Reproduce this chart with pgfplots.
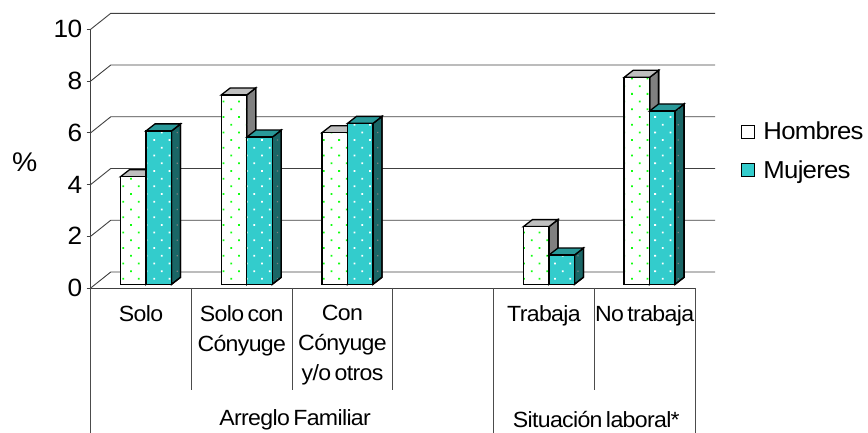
\documentclass[border=0pt]{standalone}
\usepackage{fontspec}
\setmainfont[FakeStretch=1.05,LetterSpace=-3,WordSpace=0.6]{Liberation Sans}
\usepackage{pgfplots}
\usepackage{pgfplotstable}
\pgfplotsset{compat=1.18}
\usetikzlibrary{patterns.meta}

\definecolor{teal1}{HTML}{33CCCC}
\definecolor{tealside}{HTML}{1A6666}
\definecolor{tealtop}{HTML}{299999}
\definecolor{dotgreen}{HTML}{11FF11}

% % by category: 0-2 arreglo familiar, 3 empty, 4-5 situacion laboral
\pgfplotstableread{
c h m
0 4.16 5.93
1 7.32 5.69
2 5.86 6.22
4 2.23 1.13
5 8.00 6.70
}\datos

\tikzset{
  dotsg/.style={pattern={Dots[distance=10.9pt,radius=1.25pt,angle=45]},pattern color=dotgreen},
  dotsw/.style={pattern={Dots[distance=10.9pt,radius=1.25pt,angle=45]},pattern color=white},
  dotsd/.style={pattern={Dots[distance=10.9pt,radius=0.9pt,angle=45]},pattern color=gray},
}

\pgfdeclareplotmark{nada}{}

% side and top of a bar, mark sits at the top of the bar's centre line
\newcommand{\extrude}[4]{%
  \pgfmathsetmacro{\hh}{\val*25.87}%
  \path[draw=black,line width=1.3pt,fill=#2,postaction={#4}]
    (#3pt+25.5pt,0pt) -- ++(9pt,7pt) -- ++(0pt,-\hh pt) -- ++(-9pt,-7pt) -- cycle;%
  \path[draw=black,line width=1.3pt,fill=#1]
    (#3pt,0pt) -- ++(9pt,7pt) -- ++(25.5pt,0pt) -- ++(-9pt,-7pt) -- cycle;%
}

\begin{document}
\begin{tikzpicture}
\useasboundingbox (0pt,0pt) rectangle (868pt,433pt);

% frame, grid and labels, x in categories, front plane of the box
\begin{axis}[
  at={(90.7pt,145pt)}, anchor=south west,
  scale only axis, width=604.3pt, height=258.7pt,
  xmin=-0.5, xmax=5.5, ymin=0, ymax=10,
  clip=false,
  axis x line*=bottom, axis y line*=left,
  axis line style={-, line width=0.8pt, black!75},
  ytick={0,2,4,6,8,10},
  xtick={0,1,2,4,5},
  xticklabels={Solo,{Solo con\\Cónyuge},{Con\\Cónyuge\\y/o otros},Trabaja,No trabaja},
  /pgf/number format/assume math mode=true,
  yticklabel style={font=\fontsize{25}{25}\selectfont, xshift=-1pt},
  xticklabel style={font=\fontsize{22}{30}\selectfont, align=center, anchor=north, yshift=-10pt},
  xtick style={draw=none},
  ytick style={black!75, line width=0.8pt},
  tick align=outside,
  major tick length=4pt,
  ylabel={\%},
  ylabel style={rotate=-90, at={(axis description cs:-0.109,0.487)}, anchor=center, font=\fontsize{27}{27}\selectfont},
]
% grid lines, front edge to back wall
\addplot[black!75, line width=0.9pt] coordinates {(-0.5,0) (-0.301,0.618) (5.70,0.618)};
\addplot[black!75, line width=0.9pt] coordinates {(-0.5,2) (-0.301,2.618) (5.70,2.618)};
\addplot[black!75, line width=0.9pt] coordinates {(-0.5,4) (-0.301,4.618) (5.70,4.618)};
\addplot[black!75, line width=0.9pt] coordinates {(-0.5,6) (-0.301,6.618) (5.70,6.618)};
\addplot[black!75, line width=0.9pt] coordinates {(-0.5,8) (-0.301,8.618) (5.70,8.618)};
\addplot[black!75, line width=0.9pt] coordinates {(-0.5,10) (-0.301,10.618) (5.70,10.618)};
% separators under the axis
\addplot[black!70, line width=0.8pt] coordinates {(0.5,0) (0.5,-3.94)};
\addplot[black!70, line width=0.8pt] coordinates {(1.5,0) (1.5,-3.94)};
\addplot[black!70, line width=0.8pt] coordinates {(2.5,0) (2.5,-3.94)};
\addplot[black!70, line width=0.8pt] coordinates {(4.5,0) (4.5,-3.94)};
\addplot[black!70, line width=0.8pt] coordinates {(-0.5,0) (-0.5,-5.6)};
\addplot[black!70, line width=0.8pt] coordinates {(3.5,0) (3.5,-5.6)};
\addplot[black!70, line width=0.8pt] coordinates {(5.5,0) (5.5,-5.6)};
\node[font=\fontsize{22}{22}\selectfont, inner sep=0pt] at (axis cs:1.53,-5.1) {Arreglo Familiar};
\node[font=\fontsize{22}{22}\selectfont, inner sep=0pt] at (axis cs:4.52,-5.1) {Situación laboral*};
\end{axis}

% bars, sit a little behind the front plane
\begin{axis}[
  at={(95.7pt,148.7pt)}, anchor=south west,
  scale only axis, width=604.3pt, height=258.7pt,
  xmin=-0.5, xmax=5.5, ymin=0, ymax=10,
  clip=false, clip mode=individual, hide axis,
  legend style={at={(1.067,0.635)}, anchor=north west, draw=none, fill=none,
    font=\fontsize{24.5}{24.5}\selectfont, row sep=15pt, inner sep=0pt,
    /tikz/every odd column/.append style={column sep=6pt}},
  legend cell align=left,
]
\addplot[forget plot, only marks, mark=nada, scatter, visualization depends on={rawy\as\val},
  scatter/@pre marker code/.code={\extrude{black!25}{black!50}{-25.5}{dotsd}},
  scatter/@post marker code/.code={}] table[x=c,y=h] {\datos};
\addplot[ybar, bar width=25.5pt, bar shift=-12.75pt, draw=black, line width=1.3pt,
  preaction={fill=white}, dotsg,
  legend image code/.code={\draw[black,line width=1.3pt,fill=white] (0pt,-6.5pt) rectangle (13.5pt,6.5pt);}
  ] table[x=c,y=h] {\datos};
\addlegendentry{Hombres}
\addplot[forget plot, only marks, mark=nada, scatter, visualization depends on={rawy\as\val},
  scatter/@pre marker code/.code={\extrude{tealtop}{tealside}{0}{dotsd}},
  scatter/@post marker code/.code={}] table[x=c,y=m] {\datos};
\addplot[ybar, bar width=25.5pt, bar shift=12.75pt, draw=black, line width=1.3pt,
  preaction={fill=teal1}, dotsw,
  legend image code/.code={\draw[black,line width=1.3pt,fill=teal1] (0pt,-6.5pt) rectangle (13.5pt,6.5pt);}
  ] table[x=c,y=m] {\datos};
\addlegendentry{Mujeres}
\end{axis}
\end{tikzpicture}
\end{document}
